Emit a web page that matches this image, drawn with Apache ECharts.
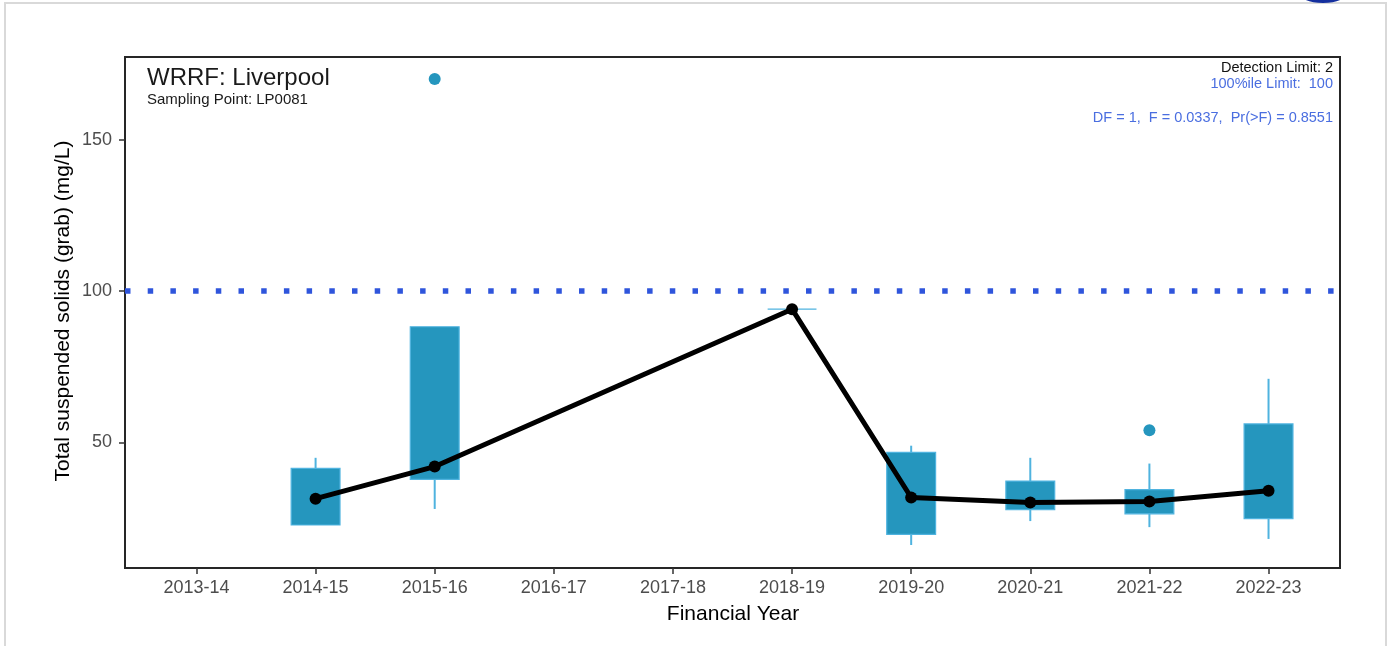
<!DOCTYPE html>
<html>
<head>
<meta charset="utf-8">
<script src="https://cdn.jsdelivr.net/npm/echarts@6/dist/echarts.min.js"></script>
<style>
  html, body { margin: 0; padding: 0; background: #ffffff; }
  #chart { width: 1392px; height: 646px; }
</style>
</head>
<body>
<div id="chart"></div>
<script>
// Financial years on the x axis
const years = ['2013-14', '2014-15', '2015-16', '2016-17', '2017-18',
               '2018-19', '2019-20', '2020-21', '2021-22', '2022-23'];

// Box statistics per year (mg/L); null where no samples
const boxLow  = [null, 22.7, 28.0, null, null, 94.0, 16.1, 24.0, 22.0, 18.1];
const boxQ1   = [null, 22.7, 37.8, null, null, 94.0, 19.6, 27.8, 26.4, 24.8];
const boxQ3   = [null, 41.4, 88.2, null, null, 94.0, 46.7, 37.2, 34.4, 56.1];
const boxHigh = [null, 44.9, 88.2, null, null, 94.0, 48.9, 44.9, 43.0, 71.0];

// Yearly central values joined by the black trend line
const centreValues = [null, 31.4, 42.0, null, null, 94.0, 31.8, 30.1, 30.5, 34.0];

// Outlying samples
const outlierYears  = ['2015-16', '2021-22'];
const outlierValues = [170, 54];

// 100 percentile licence limit
const limitValue = 100;

// Y axis tick labels
const yTicks = [50, 100, 150];

const FONT = '"Liberation Sans", Arial, Helvetica, sans-serif';
const BOX_FILL = '#2596be';
const WHISKER = '#4fb3df';

const boxData = [];
years.forEach((y, i) => {
  if (boxLow[i] !== null) {
    boxData.push([i, boxLow[i], boxQ1[i], boxQ3[i], boxHigh[i]]);
  }
});
const centreData = [];
years.forEach((y, i) => {
  if (centreValues[i] !== null) centreData.push([i, centreValues[i]]);
});
const outlierData = outlierYears.map((y, k) => [years.indexOf(y), outlierValues[k]]);

const chart = echarts.init(document.getElementById('chart'), null, { renderer: 'canvas' });

const option = {
  backgroundColor: '#ffffff',
  animation: false,
  grid: {
    left: 125, top: 57, width: 1215, height: 511,
    show: true, borderColor: '#262626', borderWidth: 2, backgroundColor: 'transparent'
  },
  xAxis: {
    type: 'value', min: -0.6, max: 9.6,
    axisLine: { show: false, onZero: false },
    splitLine: { show: false },
    axisTick: {
      show: true, length: 6, customValues: years.map((y, i) => i),
      lineStyle: { color: '#333333', width: 1.5 }
    },
    axisLabel: {
      customValues: years.map((y, i) => i),
      formatter: v => years[Math.round(v)],
      margin: 11, fontSize: 18, color: '#4d4d4d', fontFamily: FONT
    }
  },
  yAxis: {
    type: 'value', min: 8.5, max: 177.3,
    axisLine: { show: false, onZero: false },
    splitLine: { show: false },
    axisTick: {
      show: true, length: 6, customValues: yTicks,
      lineStyle: { color: '#333333', width: 1.5 }
    },
    axisLabel: {
      customValues: yTicks,
      margin: 13, fontSize: 18, color: '#4d4d4d', fontFamily: FONT
    }
  },
  series: [
    {
      // Boxes with whiskers
      type: 'custom',
      data: boxData,
      z: 2,
      renderItem: function (params, api) {
        const x = api.value(0);
        const lo = api.coord([x, api.value(1)]);
        const q1 = api.coord([x, api.value(2)]);
        const q3 = api.coord([x, api.value(3)]);
        const hi = api.coord([x, api.value(4)]);
        const w = api.size([0.41, 0])[0];
        return {
          type: 'group',
          children: [
            { type: 'line', shape: { x1: hi[0], y1: hi[1], x2: q3[0], y2: q3[1] },
              style: { stroke: WHISKER, lineWidth: 2 } },
            { type: 'line', shape: { x1: q1[0], y1: q1[1], x2: lo[0], y2: lo[1] },
              style: { stroke: WHISKER, lineWidth: 2 } },
            { type: 'rect', shape: { x: q3[0] - w / 2, y: q3[1], width: w, height: q1[1] - q3[1] },
              style: { fill: BOX_FILL, stroke: WHISKER, lineWidth: 1.2 } }
          ]
        };
      }
    },
    {
      type: 'scatter',
      data: outlierData,
      symbol: 'circle', symbolSize: 12,
      itemStyle: { color: BOX_FILL, opacity: 1 },
      z: 3
    },
    {
      // Licence limit
      type: 'line',
      data: [[-0.6, limitValue], [9.6, limitValue]],
      symbol: 'none',
      lineStyle: { color: '#2f55dc', width: 5.5, type: [5.5, 17.2], cap: 'butt' },
      z: 3
    },
    {
      type: 'line',
      data: centreData,
      symbol: 'circle', symbolSize: 12,
      itemStyle: { color: '#000000' },
      lineStyle: { color: '#000000', width: 5, join: 'round' },
      z: 5
    }
  ],
  graphic: [
    { type: 'rect', shape: { x: 5, y: 3, width: 1381, height: 700 },
      style: { fill: 'none', stroke: '#d9d9d9', lineWidth: 2 }, z: 0 },
    { type: 'ellipse', shape: { cx: 1323, cy: -6, rx: 23, ry: 9 },
      style: { fill: '#142f9e' }, z: 1 },
    { type: 'text', x: 147, y: 78,
      style: { text: 'WRRF: Liverpool', font: '24px ' + FONT, fill: '#1a1a1a',
               textAlign: 'left', textVerticalAlign: 'middle' }, z: 10 },
    { type: 'text', x: 147, y: 100,
      style: { text: 'Sampling Point: LP0081', font: '15px ' + FONT, fill: '#1a1a1a',
               textAlign: 'left', textVerticalAlign: 'middle' }, z: 10 },
    { type: 'text', x: 1333, y: 67.5,
      style: { text: 'Detection Limit: 2', font: '14.5px ' + FONT, fill: '#111111',
               textAlign: 'right', textVerticalAlign: 'middle' }, z: 10 },
    { type: 'text', x: 1333, y: 84,
      style: { text: '100%ile Limit:  100', font: '14.5px ' + FONT, fill: '#4a6ee0',
               textAlign: 'right', textVerticalAlign: 'middle' }, z: 10 },
    { type: 'text', x: 1333, y: 118,
      style: { text: 'DF = 1,  F = 0.0337,  Pr(>F) = 0.8551', font: '14.5px ' + FONT, fill: '#4a6ee0',
               textAlign: 'right', textVerticalAlign: 'middle' }, z: 10 },
    { type: 'text', x: 733, y: 614,
      style: { text: 'Financial Year', font: '21px ' + FONT, fill: '#000000',
               textAlign: 'center', textVerticalAlign: 'middle' }, z: 10 },
    { type: 'text', x: 63, y: 311, rotation: Math.PI / 2,
      style: { text: 'Total suspended solids (grab) (mg/L)', font: '21px ' + FONT, fill: '#000000',
               textAlign: 'center', textVerticalAlign: 'middle' }, z: 10 }
  ]
};

chart.setOption(option);
</script>
</body>
</html>
